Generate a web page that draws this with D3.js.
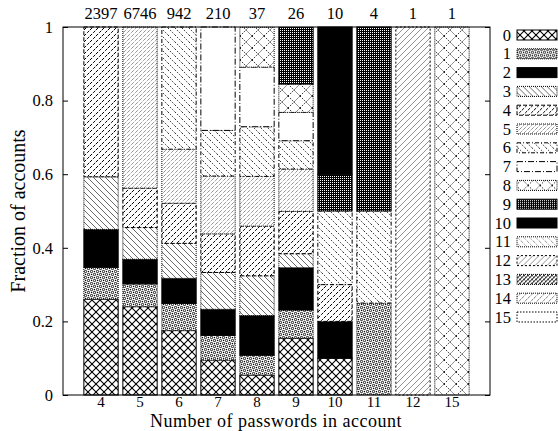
<!DOCTYPE html>
<html lang="en">
<head>
    <meta charset="UTF-8">
    <title>Fraction of accounts by number of passwords</title>
    <script src="https://d3js.org/d3.v7.min.js"></script>
    <style>
        body { margin: 0; padding: 0; background: #fff; }
        svg { display: block; }
        text { font-family: "Liberation Serif", "Times New Roman", serif; fill: #000; }
    </style>
</head>
<body>
    <svg id="chart" width="558" height="431"></svg>
    <script>
        // bars: number of passwords in account, and how many accounts each bar covers
        const categories = ["4", "5", "6", "7", "8", "9", "10", "11", "12", "15"];
        const counts = [2397, 6746, 942, 210, 37, 26, 10, 4, 1, 1];
        const yTicks = [0, 0.2, 0.4, 0.6, 0.8, 1];

        // one array per stacked series (0..15), one value per bar
        const s0  = [0.260, 0.240, 0.175, 0.095, 0.054, 0.154, 0.100, 0, 0, 0];
        const s1  = [0.087, 0.062, 0.074, 0.067, 0.054, 0.077, 0, 0.250, 0, 0];
        const s2  = [0.103, 0.067, 0.068, 0.071, 0.108, 0.115, 0.100, 0, 0, 0];
        const s3  = [0.143, 0.086, 0.095, 0.100, 0.108, 0.038, 0, 0, 0, 0];
        const s4  = [0.407, 0.107, 0.109, 0.105, 0.135, 0.115, 0.100, 0, 0, 0];
        const s5  = [0, 0.438, 0.147, 0.157, 0.135, 0.115, 0, 0, 0, 0];
        const s6  = [0, 0, 0.332, 0.124, 0.135, 0.077, 0.200, 0.250, 0, 0];
        const s7  = [0, 0, 0, 0.281, 0.162, 0.077, 0, 0, 0, 0];
        const s8  = [0, 0, 0, 0, 0.108, 0.077, 0, 0, 0, 1];
        const s9  = [0, 0, 0, 0, 0, 0.154, 0.100, 0.500, 0, 0];
        const s10 = [0, 0, 0, 0, 0, 0, 0.400, 0, 0, 0];
        const s11 = [0, 0, 0, 0, 0, 0, 0, 0, 0, 0];
        const s12 = [0, 0, 0, 0, 0, 0, 0, 0, 1, 0];
        const s13 = [0, 0, 0, 0, 0, 0, 0, 0, 0, 0];
        const s14 = [0, 0, 0, 0, 0, 0, 0, 0, 0, 0];
        const s15 = [0, 0, 0, 0, 0, 0, 0, 0, 0, 0];

        const seriesList = [s0, s1, s2, s3, s4, s5, s6, s7, s8, s9, s10, s11, s12, s13, s14, s15];
        const keys = seriesList.map((d, i) => String(i));

        const rows = categories.map((c, j) => {
            const row = { cat: c };
            seriesList.forEach((s, i) => { row[keys[i]] = s[j]; });
            return row;
        });

        const margin = { left: 63, top: 27, right: 490, bottom: 395 };

        const svg = d3.select("#chart");
        const defs = svg.append("defs");

        // fill patterns, roughly like the gnuplot ones
        function pat(id, size, draw) {
            const p = defs.append("pattern")
                .attr("id", id)
                .attr("patternUnits", "userSpaceOnUse")
                .attr("width", size)
                .attr("height", size);
            p.append("rect").attr("width", size).attr("height", size).attr("fill", "#fff");
            draw(p, size);
        }
        function slash(p, s, stroke, w, dash) {
            [[0, s, s, 0], [-s, s, s, -s], [0, 2 * s, 2 * s, 0]].forEach(l => {
                p.append("line").attr("x1", l[0]).attr("y1", l[1]).attr("x2", l[2]).attr("y2", l[3])
                    .attr("stroke", stroke).attr("stroke-width", w).attr("stroke-dasharray", dash || null);
            });
        }
        function back(p, s, stroke, w, dash) {
            [[0, 0, s, s], [-s, 0, s, 2 * s], [0, -s, 2 * s, s]].forEach(l => {
                p.append("line").attr("x1", l[0]).attr("y1", l[1]).attr("x2", l[2]).attr("y2", l[3])
                    .attr("stroke", stroke).attr("stroke-width", w).attr("stroke-dasharray", dash || null);
            });
        }

        pat("p0", 8, (p, s) => { slash(p, s, "#000", 1.1); back(p, s, "#000", 1.1); });
        pat("p1", 6, (p, s) => {
            [[1.5, 1.5], [4.5, 4.5]].forEach(c => {
                p.append("circle").attr("cx", c[0]).attr("cy", c[1]).attr("r", 1.2)
                    .attr("fill", "none").attr("stroke", "#000").attr("stroke-width", 0.9);
            });
            [[4.5, 1.5], [1.5, 4.5]].forEach(c => {
                p.append("rect").attr("x", c[0] - 0.6).attr("y", c[1] - 0.6).attr("width", 1.2).attr("height", 1.2).attr("fill", "#000");
            });
        });
        pat("p2", 4, (p, s) => { p.append("rect").attr("width", s).attr("height", s).attr("fill", "#000"); });
        pat("p3", 6, (p, s) => back(p, s, "#444", 0.8));
        pat("p4", 6, (p, s) => slash(p, s, "#000", 1, "3,1.5"));
        pat("p5", 4, (p, s) => slash(p, s, "#555", 0.9, "1,1"));
        pat("p6", 7, (p, s) => back(p, s, "#333", 1, "1.5,1.5"));
        pat("p7", 4, () => {});
        pat("p8", 12, (p, s) => { slash(p, s, "#222", 1, "1.5,1.5"); back(p, s, "#222", 1, "1.5,1.5"); });
        pat("p9", 2, (p) => {
            p.append("rect").attr("width", 2).attr("height", 2).attr("fill", "#000");
            p.append("rect").attr("x", 0).attr("y", 0).attr("width", 1).attr("height", 1).attr("fill", "#fff");
        });
        pat("p10", 4, (p, s) => { p.append("rect").attr("width", s).attr("height", s).attr("fill", "#000"); });
        pat("p11", 6, (p, s) => back(p, s, "#555", 0.9, "1,1.5"));
        pat("p12", 6, (p, s) => slash(p, s, "#777", 0.8));
        pat("p13", 4, (p, s) => { slash(p, s, "#000", 1); back(p, s, "#000", 0.8, "1,1"); });
        pat("p14", 6, (p, s) => slash(p, s, "#444", 1, "1,1"));
        pat("p15", 4, () => {});

        const borderDash = ["", "1,1", "", "1,1", "4,2", "1,1", "4,2,1,2", "6,2,1,2",
                            "1,1", "", "", "1,1", "2,2", "1,1", "1,1", "1.5,1.5"];

        const x = d3.scaleBand()
            .domain(categories)
            .range([margin.left, margin.right])
            .paddingInner(0.12)
            .paddingOuter(0.535);

        const y = d3.scaleLinear()
            .domain([0, 1])
            .range([margin.bottom, margin.top]);

        const stacked = d3.stack().keys(keys)(rows);

        const layers = svg.append("g").selectAll("g")
            .data(stacked)
            .join("g")
            .attr("fill", (d, i) => `url(#p${i})`)
            .attr("stroke", "#000")
            .attr("stroke-width", 1)
            .attr("stroke-dasharray", (d, i) => borderDash[i] || null);

        layers.selectAll("rect")
            .data(d => d.filter(v => v[1] - v[0] > 0))
            .join("rect")
            .attr("x", d => x(d.data.cat))
            .attr("width", x.bandwidth())
            .attr("y", d => y(d[1]))
            .attr("height", d => y(d[0]) - y(d[1]));

        // frame
        svg.append("rect")
            .attr("x", margin.left).attr("y", margin.top)
            .attr("width", margin.right - margin.left)
            .attr("height", margin.bottom - margin.top)
            .attr("fill", "none").attr("stroke", "#000").attr("stroke-width", 1);

        // y axis, ticks pointing inward on both sides
        const yAxis = svg.append("g").attr("transform", `translate(${margin.left},0)`)
            .call(d3.axisLeft(y).tickValues(yTicks).tickFormat(d3.format("")).tickSizeInner(-5).tickSizeOuter(0).tickPadding(10));
        yAxis.select(".domain").remove();
        yAxis.selectAll("text").attr("font-size", 16.5).attr("font-family", "Liberation Serif");

        const yRight = svg.append("g").attr("transform", `translate(${margin.right},0)`)
            .call(d3.axisRight(y).tickValues(yTicks).tickFormat("").tickSizeInner(-5).tickSizeOuter(0));
        yRight.select(".domain").remove();

        // x axis labels
        const xAxis = svg.append("g").attr("transform", `translate(0,${margin.bottom})`)
            .call(d3.axisBottom(x).tickSize(0).tickPadding(1.5));
        xAxis.select(".domain").remove();
        xAxis.selectAll("text").attr("font-size", 15).attr("font-family", "Liberation Serif");

        // account counts above the bars
        svg.append("g").selectAll("text")
            .data(categories)
            .join("text")
            .attr("x", d => x(d) + x.bandwidth() / 2)
            .attr("y", 19)
            .attr("text-anchor", "middle")
            .attr("font-size", 16.5)
            .text((d, i) => counts[i]);

        // axis titles
        svg.append("text")
            .attr("transform", `translate(25,${(margin.top + margin.bottom) / 2}) rotate(-90)`)
            .attr("text-anchor", "middle")
            .attr("font-size", 20)
            .text("Fraction of accounts");

        svg.append("text")
            .attr("x", 276)
            .attr("y", 427)
            .attr("text-anchor", "middle")
            .attr("font-size", 18)
            .attr("letter-spacing", 0.5)
            .text("Number of passwords in account");

        // legend
        const legend = svg.append("g").selectAll("g")
            .data(keys)
            .join("g")
            .attr("transform", (d, i) => `translate(0,${35 + i * 18.8})`);

        legend.append("text")
            .attr("x", 511)
            .attr("y", 5.5)
            .attr("text-anchor", "end")
            .attr("font-size", 16.5)
            .text(d => d);

        legend.append("rect")
            .attr("x", 517)
            .attr("y", -5)
            .attr("width", 40)
            .attr("height", 10)
            .attr("fill", (d, i) => `url(#p${i})`)
            .attr("stroke", "#000")
            .attr("stroke-width", 1)
            .attr("stroke-dasharray", (d, i) => borderDash[i] || null);
    </script>
</body>
</html>
